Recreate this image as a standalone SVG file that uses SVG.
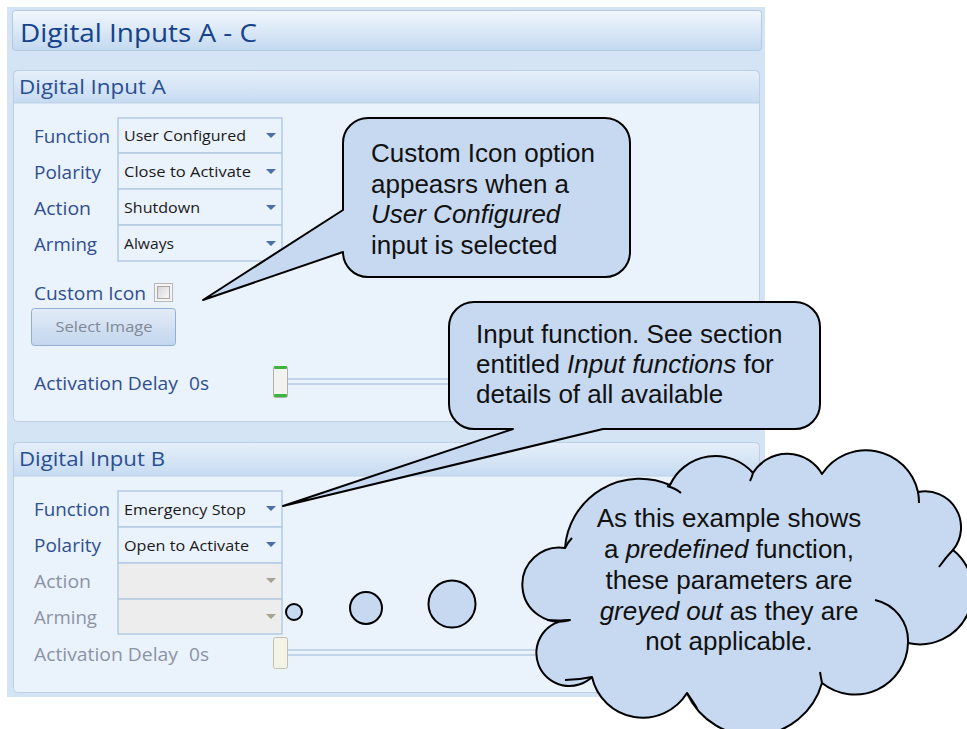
<svg xmlns="http://www.w3.org/2000/svg" width="967" height="729" viewBox="0 0 967 729">
<defs>
<linearGradient id="gTitle" x1="0" y1="0" x2="0" y2="1"><stop offset="0" stop-color="#f2f7fd"/><stop offset="1" stop-color="#c3d9f0"/></linearGradient>
<linearGradient id="gHead" x1="0" y1="0" x2="0" y2="1"><stop offset="0" stop-color="#e6effa"/><stop offset="1" stop-color="#c6dbf1"/></linearGradient>
<linearGradient id="gBtn" x1="0" y1="0" x2="0" y2="1"><stop offset="0" stop-color="#e3ecf7"/><stop offset="1" stop-color="#c2d6ee"/></linearGradient>
<linearGradient id="gChk" x1="0" y1="0" x2="1" y2="1"><stop offset="0" stop-color="#d6d6d6"/><stop offset="1" stop-color="#f8f8f8"/></linearGradient>
<style>
.title{font-family:"Open Sans","Noto Sans",sans-serif;font-size:26px;fill:#15428b}
.head{font-family:"Open Sans","Noto Sans",sans-serif;font-size:20px;fill:#2a4f93}
.lbl{font-family:"Open Sans","Noto Sans",sans-serif;font-size:17.5px;fill:#2f4f8f}
.dis{font-family:"Open Sans","Noto Sans",sans-serif;font-size:17.5px;fill:#8b93a6}
.dd{font-family:"Open Sans","Noto Sans",sans-serif;font-size:14.5px;fill:#1a1a1a}
.btnt{font-family:"Open Sans","Noto Sans",sans-serif;font-size:14.5px;fill:#7f8896}
.box{fill:#eaf2fc;stroke:#b5cae4;stroke-width:1.5}
.boxd{fill:#ededed;stroke:#b5cae4;stroke-width:1.5}
.arr{fill:#4d6fa6}
.arrd{fill:#a8a294}
.call{fill:#c6d9f0;stroke:#000;stroke-width:2;stroke-linejoin:round}
.ct{font-family:"Liberation Sans",Arial,sans-serif;font-size:26px;fill:#111}
.crease{fill:none;stroke:#000;stroke-width:2}
.track{stroke:#b5cae4;stroke-width:1.5}
</style>
</defs>

<rect x="0" y="0" width="967" height="729" fill="#ffffff"/>
<!-- outer window -->
<g id="window">
<rect x="7" y="7" width="758" height="690" fill="#d5e4f4"/>
<rect x="12.5" y="10.5" width="749" height="40" rx="3" fill="url(#gTitle)" stroke="#b4c9e0"/>
<text class="title" x="20" y="42" textLength="237" lengthAdjust="spacingAndGlyphs">Digital Inputs A - C</text>
</g>

<!-- Panel A -->
<g id="panelA">
<rect x="13.5" y="70.5" width="746" height="351" rx="4" fill="#eaf2fc" stroke="#bccfe5"/>
<path d="M13.5,103 V75 a4.5,4.5 0 0 1 4.5,-4.5 H755 a4.5,4.5 0 0 1 4.5,4.5 V103 Z" fill="url(#gHead)" stroke="#bccfe5"/>
<text class="head" x="19" y="94" textLength="147" lengthAdjust="spacingAndGlyphs">Digital Input A</text>

<text class="lbl" x="34" y="143" textLength="76" lengthAdjust="spacingAndGlyphs">Function</text>
<text class="lbl" x="34" y="179" textLength="67" lengthAdjust="spacingAndGlyphs">Polarity</text>
<text class="lbl" x="34" y="215" textLength="57" lengthAdjust="spacingAndGlyphs">Action</text>
<text class="lbl" x="34" y="251" textLength="63" lengthAdjust="spacingAndGlyphs">Arming</text>

<rect class="box" x="118" y="118" width="164" height="35"/>
<rect class="box" x="118" y="153" width="164" height="36"/>
<rect class="box" x="118" y="189" width="164" height="36"/>
<rect class="box" x="118" y="225" width="164" height="36"/>
<text class="dd" x="124" y="141" textLength="122" lengthAdjust="spacingAndGlyphs">User Configured</text>
<text class="dd" x="124" y="177" textLength="127" lengthAdjust="spacingAndGlyphs">Close to Activate</text>
<text class="dd" x="124" y="213" textLength="76" lengthAdjust="spacingAndGlyphs">Shutdown</text>
<text class="dd" x="124" y="249" textLength="50" lengthAdjust="spacingAndGlyphs">Always</text>
<path class="arr" d="M266,133 h10 l-5,5 z M266,169 h10 l-5,5 z M266,205 h10 l-5,5 z M266,241 h10 l-5,5 z"/>

<text class="lbl" x="34" y="300" textLength="112" lengthAdjust="spacingAndGlyphs">Custom Icon</text>
<rect x="154.5" y="283.5" width="18" height="18" fill="#f4f4f4" stroke="#b8b8b8"/>
<rect x="157.5" y="286.5" width="12" height="12" fill="url(#gChk)" stroke="#a8a8a8"/>

<rect x="31.5" y="308.5" width="144" height="37" rx="3" fill="url(#gBtn)" stroke="#93afd3"/>
<text class="btnt" x="104" y="332" text-anchor="middle" textLength="97" lengthAdjust="spacingAndGlyphs">Select Image</text>

<text class="lbl" x="34" y="390" textLength="144" lengthAdjust="spacingAndGlyphs">Activation Delay</text>
<text class="lbl" x="189" y="390" textLength="20" lengthAdjust="spacingAndGlyphs">0s</text>
<line class="track" x1="287" y1="379" x2="470" y2="379"/>
<line class="track" x1="287" y1="384" x2="470" y2="384"/>
<rect x="273.5" y="366.5" width="14" height="31" rx="2" fill="#f2f2ee" stroke="#b0b0a8"/>
<rect x="274" y="366" width="13" height="3" rx="1" fill="#3db43d"/>
<rect x="274" y="394" width="13" height="3" rx="1" fill="#3db43d"/>
</g>

<!-- Panel B -->
<g id="panelB">
<rect x="13.5" y="442.5" width="746" height="250" rx="4" fill="#eaf2fc" stroke="#bccfe5"/>
<path d="M13.5,476 V447 a4.5,4.5 0 0 1 4.5,-4.5 H755 a4.5,4.5 0 0 1 4.5,4.5 V476 Z" fill="url(#gHead)" stroke="#bccfe5"/>
<text class="head" x="19" y="466" textLength="146" lengthAdjust="spacingAndGlyphs">Digital Input B</text>

<text class="lbl" x="34" y="516" textLength="76" lengthAdjust="spacingAndGlyphs">Function</text>
<text class="lbl" x="34" y="552" textLength="67" lengthAdjust="spacingAndGlyphs">Polarity</text>
<text class="dis" x="34" y="588" textLength="57" lengthAdjust="spacingAndGlyphs">Action</text>
<text class="dis" x="34" y="624" textLength="63" lengthAdjust="spacingAndGlyphs">Arming</text>

<rect class="box" x="118" y="491" width="164" height="36"/>
<rect class="box" x="118" y="527" width="164" height="36"/>
<rect class="boxd" x="118" y="563" width="164" height="36"/>
<rect class="boxd" x="118" y="599" width="164" height="35"/>
<text class="dd" x="124" y="515" textLength="122" lengthAdjust="spacingAndGlyphs">Emergency Stop</text>
<text class="dd" x="124" y="551" textLength="125" lengthAdjust="spacingAndGlyphs">Open to Activate</text>
<path class="arr" d="M266,506 h10 l-5,5 z M266,542 h10 l-5,5 z"/>
<path class="arrd" d="M266,578 h10 l-5,5 z M266,614 h10 l-5,5 z"/>

<text class="dis" x="34" y="661" textLength="144" lengthAdjust="spacingAndGlyphs">Activation Delay</text>
<text class="dis" x="189" y="661" textLength="20" lengthAdjust="spacingAndGlyphs">0s</text>
<line class="track" x1="287" y1="650" x2="560" y2="650"/>
<line class="track" x1="287" y1="655" x2="560" y2="655"/>
<rect x="273.5" y="637.5" width="14" height="31" rx="2" fill="#f4f3e8" stroke="#c2bfae"/>
</g>

<!-- Connectors / callouts -->
<g id="connectors">
<g id="callout1">
<path class="call" d="M368,118 H605 a25,25 0 0 1 25,25 V252 a25,25 0 0 1 -25,25 H368 a25,25 0 0 1 -25,-25 V252 L203,300 L343,210 V143 a25,25 0 0 1 25,-25 Z"/>
<text class="ct" x="371" y="162">Custom Icon option</text>
<text class="ct" x="371" y="192.5">appeasrs when a</text>
<text class="ct" x="371" y="223" font-style="italic">User Configured</text>
<text class="ct" x="371" y="253.5">input is selected</text>
</g>
<g id="callout2">
<path class="call" d="M474,302 H795 a25,25 0 0 1 25,25 V404 a25,25 0 0 1 -25,25 H603 L283,506 L513,429 H474 a25,25 0 0 1 -25,-25 V327 a25,25 0 0 1 25,-25 Z"/>
<text class="ct" x="476" y="343">Input function. See section</text>
<text class="ct" x="476" y="373">entitled <tspan font-style="italic">Input functions</tspan> for</text>
<text class="ct" x="476" y="403">details of all available</text>
</g>
<g id="cloud">
<circle class="call" cx="294" cy="612" r="8"/>
<circle class="call" cx="366" cy="608" r="16"/>
<circle class="call" cx="452" cy="604" r="23.5"/>
<path class="call" d="M565,548 A75,75 0 0 1 670,485 A50,50 0 0 1 753,473 A40,40 0 0 1 822,474 A53,53 0 0 1 918,492 A36,36 0 0 1 953,550 A53,53 0 0 1 908,643 A53,53 0 0 1 822,683 A72,72 0 0 1 687,693 A52,52 0 0 1 592,677 A33,33 0 1 1 570,620 A37,37 0 1 1 565,548 Z"/>
<path class="crease" d="M667,486 Q675,488 681,493 M753,473 Q752,477 750,481 M918,492 Q919,497 919,503 M953,550 Q946,557 939,567 M875,600 A42,42 0 0 1 908,643 M822,683 Q821,678 820,672 M687,693 Q692,700 697,708 M592,677 Q578,680 565,680 M570,620 Q558,621 547,620 M565,548 Q568,542 572,538"/>
<text class="ct" x="729" y="527" text-anchor="middle">As this example shows</text>
<text class="ct" x="729" y="558" text-anchor="middle">a <tspan font-style="italic">predefined</tspan> function,</text>
<text class="ct" x="729" y="588.5" text-anchor="middle">these parameters are</text>
<text class="ct" x="729" y="619.5" text-anchor="middle"><tspan font-style="italic">greyed out</tspan> as they are</text>
<text class="ct" x="729" y="650" text-anchor="middle">not applicable.</text>
</g>
</g>
</svg>
